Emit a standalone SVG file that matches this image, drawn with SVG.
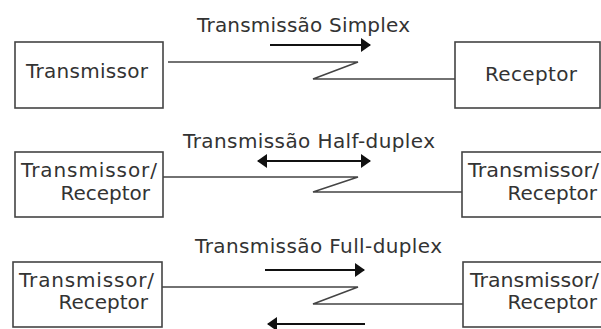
<svg xmlns="http://www.w3.org/2000/svg" width="601" height="329" viewBox="0 0 601 329">
<defs>
<style>
.box{fill:#fff;stroke:#444;stroke-width:1.6}
.lbl{font-family:"DejaVu Sans",Verdana,sans-serif;font-size:20px;fill:#333}
.ttl{font-family:"DejaVu Sans",Verdana,sans-serif;font-size:20px;fill:#333}
.wire{fill:none;stroke:#444;stroke-width:1.5}
.arr{fill:none;stroke:#111;stroke-width:2}
</style>
<marker id="ah" viewBox="0 0 10 14" refX="9" refY="7" markerWidth="10" markerHeight="14" markerUnits="userSpaceOnUse" orient="auto-start-reverse">
<path d="M0,0 L10,7 L0,14 Z" fill="#111"/>
</marker>
</defs>
<rect width="601" height="329" fill="#fff"/>
<text class="ttl" x="197" y="32" textLength="213" lengthAdjust="spacing">Transmissão Simplex</text>
<text class="ttl" x="183" y="148" textLength="252" lengthAdjust="spacing">Transmissão Half-duplex</text>
<text class="ttl" x="195" y="253" textLength="247" lengthAdjust="spacing">Transmissão Full-duplex</text>
<g id="tx1">
<rect class="box" x="15" y="42" width="148" height="66"/>
<text class="lbl" x="26" y="78" textLength="122" lengthAdjust="spacing">Transmissor</text>
</g>
<g id="rx1">
<rect class="box" x="455" y="42" width="145" height="66"/>
<text class="lbl" x="485" y="81" textLength="92" lengthAdjust="spacing">Receptor</text>
</g>
<g id="trx2a">
<rect class="box" x="15" y="152" width="148" height="65"/>
<text class="lbl" x="21" y="177" textLength="136" lengthAdjust="spacing">Transmissor/</text>
<text class="lbl" x="150" y="200" text-anchor="end">Receptor</text>
</g>
<g id="trx2b">
<rect class="box" x="462" y="152" width="150" height="65"/>
<text class="lbl" x="468" y="177" textLength="131" lengthAdjust="spacingAndGlyphs">Transmissor/</text>
<text class="lbl" x="597" y="200" text-anchor="end">Receptor</text>
</g>
<g id="trx3a">
<rect class="box" x="13" y="262" width="149" height="65"/>
<text class="lbl" x="19" y="287" textLength="135" lengthAdjust="spacing">Transmissor/</text>
<text class="lbl" x="148" y="309" text-anchor="end">Receptor</text>
</g>
<g id="trx3b">
<rect class="box" x="463" y="262" width="150" height="65"/>
<text class="lbl" x="470" y="287" textLength="129" lengthAdjust="spacingAndGlyphs">Transmissor/</text>
<text class="lbl" x="597" y="309" text-anchor="end">Receptor</text>
</g>
<g id="connectors">
<polyline class="wire" points="168,62 358,62 313,79 455,79"/>
<polyline class="wire" points="163,177 358,177 313,192 462,192"/>
<polyline class="wire" points="162,287 358,287 313,304 463,304"/>
<line class="arr" x1="270" y1="45" x2="370" y2="45" marker-end="url(#ah)"/>
<line class="arr" x1="258" y1="161" x2="370" y2="161" marker-start="url(#ah)" marker-end="url(#ah)"/>
<line class="arr" x1="265" y1="270" x2="364" y2="270" marker-end="url(#ah)"/>
<line class="arr" x1="365" y1="324" x2="268" y2="324" marker-end="url(#ah)"/>
</g>
</svg>
